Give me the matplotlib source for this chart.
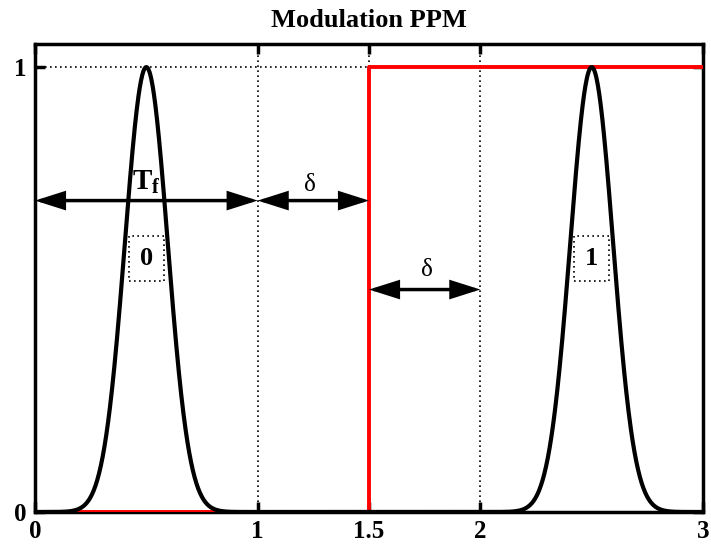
import numpy as np
import matplotlib
matplotlib.use('Agg')
import matplotlib.pyplot as plt

plt.rcParams['font.family'] = 'Liberation Serif'
plt.rcParams['mathtext.fontset'] = 'custom'
plt.rcParams['mathtext.rm'] = 'Liberation Serif'
plt.rcParams['mathtext.bf'] = 'Liberation Serif:bold'

# pulses (gaussian shape), one per symbol period
pulse_centers = [0.5, 2.5]
pulse_sigma = 0.096
bits = ['0', '1']

# red step (modulating signal)
step_x = [0, 1.5, 1.5, 3]
step_y = [0, 0, 1, 1]

xticks = [0, 1, 1.5, 2, 3]
xticklabels = ['0', '1', '1.5', '2', '3']
yticks = [0, 1]

fig = plt.figure(figsize=(7.11, 5.45), dpi=100)
ax = fig.add_axes([0.0492, 0.0606, 0.9396, 0.8587])

t = np.linspace(0, 3, 1500)
s = np.zeros_like(t)
for c in pulse_centers:
    s += np.exp(-(t - c) ** 2 / (2 * pulse_sigma ** 2))

# grid
for gx in [1, 1.5, 2]:
    ax.axvline(gx, color='black', ls=(0, (1, 2)), lw=1.2, zorder=1)
ax.axhline(1, color='black', ls=(0, (1, 2)), lw=1.2, zorder=1)

ax.plot(step_x, step_y, color='red', lw=2.8, zorder=2.6)
ax.plot(t, s, color='black', lw=3, zorder=3)

arr = dict(arrowstyle='<|-|>,head_length=0.85,head_width=0.27', color='black', lw=2.5,
           mutation_scale=20, shrinkA=0, shrinkB=0, joinstyle='miter')
ax.annotate('', xy=(0, 0.7), xytext=(1, 0.7), arrowprops=arr, zorder=4)
ax.annotate('', xy=(1, 0.7), xytext=(1.5, 0.7), arrowprops=arr, zorder=4)
ax.annotate('', xy=(1.5, 0.5), xytext=(2, 0.5), arrowprops=arr, zorder=4)

ax.text(0.5, 0.74, r'$\mathbf{T_f}$', fontsize=21, ha='center', va='center')
ax.text(1.235, 0.735, 'δ', fontsize=18, ha='center', va='center')
ax.text(1.76, 0.545, 'δ', fontsize=18, ha='center', va='center')

for c, b in zip(pulse_centers, bits):
    ax.text(c, 0.57, b, fontsize=19, fontweight='bold', ha='center', va='center',
            bbox=dict(boxstyle='square,pad=0.42', fc='white', ec='black',
                      ls=(0, (1, 2)), lw=1.2),
            zorder=5)

ax.set_xlim(0, 3)
ax.set_ylim(0, 1.052)
ax.set_xticks(xticks)
ax.set_xticklabels(xticklabels)
ax.set_yticks(yticks)
ax.tick_params(direction='in', length=7, width=2.5, labelsize=18, top=True, right=True,
               pad=6)
for lab in ax.get_xticklabels() + ax.get_yticklabels():
    lab.set_fontweight('bold')
for sp in ax.spines.values():
    sp.set_linewidth(2.5)
ax.set_title('Modulation PPM', fontsize=19, fontweight='bold', pad=12)

fig.savefig('out.png', dpi=100)
